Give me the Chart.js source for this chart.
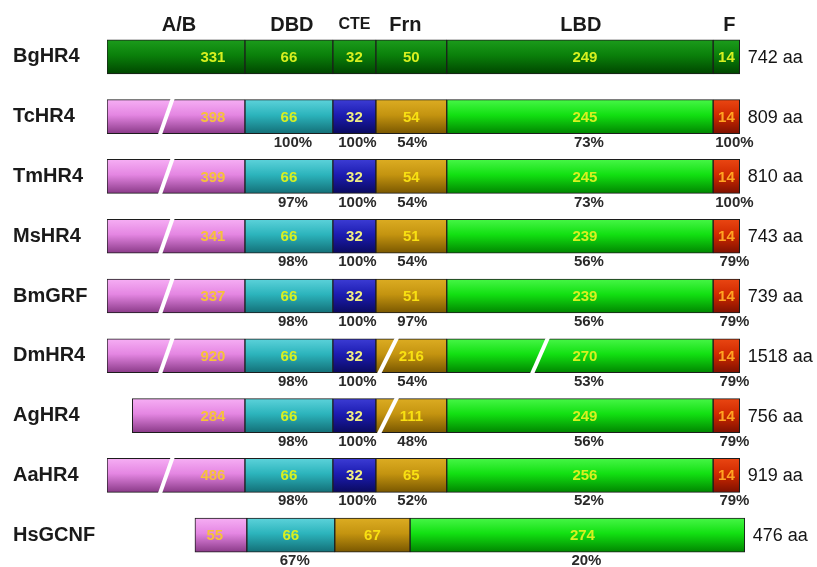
<!DOCTYPE html>
<html>
<head>
<meta charset="utf-8">
<script src="https://cdn.jsdelivr.net/npm/chart.js@4.4.0/dist/chart.umd.min.js"></script>
<style>
  html, body { margin: 0; padding: 0; background: #ffffff; }
  #wrap { width: 817px; height: 567px; }
</style>
</head>
<body>
<div id="wrap"><canvas id="c" width="817" height="567"></canvas></div>
<script>
// HR4 / GRF / GCNF orthologues and their domain organisation.
const receptors = ['BgHR4', 'TcHR4', 'TmHR4', 'MsHR4', 'BmGRF', 'DmHR4', 'AgHR4', 'AaHR4', 'HsGCNF'];
const domainNames = ['A/B', 'DBD', 'CTE', 'Frn', 'LBD', 'F'];

// Schematic extent of each domain box, in diagram units (a full-length receptor spans 0–100).
const abSeg  = [[0, 21.8], [0, 21.8], [0, 21.8], [0, 21.8], [0, 21.8], [0, 21.8], [4, 21.8], [0, 21.8], [13.9, 22.1]];
const dbdSeg = [[21.8, 35.7], [21.8, 35.7], [21.8, 35.7], [21.8, 35.7], [21.8, 35.7], [21.8, 35.7], [21.8, 35.7], [21.8, 35.7], [22.1, 36.0]];
const cteSeg = [[35.7, 42.5], [35.7, 42.5], [35.7, 42.5], [35.7, 42.5], [35.7, 42.5], [35.7, 42.5], [35.7, 42.5], [35.7, 42.5], null];
const frnSeg = [[42.5, 53.7], [42.5, 53.7], [42.5, 53.7], [42.5, 53.7], [42.5, 53.7], [42.5, 53.7], [42.5, 53.7], [42.5, 53.7], [36.0, 47.9]];
const lbdSeg = [[53.7, 95.8], [53.7, 95.8], [53.7, 95.8], [53.7, 95.8], [53.7, 95.8], [53.7, 95.8], [53.7, 95.8], [53.7, 95.8], [47.9, 100.8]];
const fSeg   = [[95.8, 100], [95.8, 100], [95.8, 100], [95.8, 100], [95.8, 100], [95.8, 100], [95.8, 100], [95.8, 100], null];

// Domain lengths in amino acids.
const abLen  = [331, 398, 399, 341, 337, 920, 284, 486, 55];
const dbdLen = [66, 66, 66, 66, 66, 66, 66, 66, 66];
const cteLen = [32, 32, 32, 32, 32, 32, 32, 32, null];
const frnLen = [50, 54, 54, 51, 51, 216, 111, 65, 67];
const lbdLen = [249, 245, 245, 239, 239, 270, 249, 256, 274];
const fLen   = [14, 14, 14, 14, 14, 14, 14, 14, null];
const totalLen = [742, 809, 810, 743, 739, 1518, 756, 919, 476];

// Identity to BgHR4 per domain (%).
const dbdId = [null, 100, 97, 98, 98, 98, 98, 98, 67];
const cteId = [null, 100, 100, 100, 100, 100, 100, 100, null];
const frnId = [null, 54, 54, 54, 97, 54, 48, 52, null];
const lbdId = [null, 73, 73, 56, 56, 53, 56, 52, 20];
const fId   = [null, 100, 100, 79, 79, 79, 79, 79, null];

// Domains drawn with a break (not to scale).
const abBreak  = [false, true, true, true, true, true, false, true, false];
const frnBreak = [false, false, false, false, false, true, true, false, false];
const lbdBreak = [false, false, false, false, false, true, false, false, false];

const segs = [abSeg, dbdSeg, cteSeg, frnSeg, lbdSeg, fSeg];
const lens = [abLen, dbdLen, cteLen, frnLen, lbdLen, fLen];
const idents = [null, dbdId, cteId, frnId, lbdId, fId];
const breaks = [abBreak, null, null, frnBreak, lbdBreak, null];

// ---- styling ----
const FONT = "'Liberation Sans', Arial, Helvetica, sans-serif";
const BAR_H = 34;
const gradStops = [
  ['#f6aef4', '#e486e2', '#8a3a88'],   // A/B
  ['#5cd2da', '#2cb4bc', '#136f77'],   // DBD
  ['#3c3cd4', '#1c1cb2', '#0a0a5e'],   // CTE
  ['#dcac22', '#c49410', '#795700'],   // Frn
  ['#46f646', '#12e012', '#008600'],   // LBD
  ['#ea4612', '#d02a00', '#7e1000']    // F
];
const refStops = ['#1c9c1c', '#0a800a', '#004600'];
const numColor = ['#f6c23a', '#d8f020', '#f0ee84', '#f8e012', '#d8f020', '#ffa422'];
const refNumColor = '#d8f020';
const pctOffset = [0, 4, 3, 1, 9, 8];
const headOffset = [3, 3, 0, -6, 1, 3];
const breakPos = [0.43, 0, 0, 0.17, 0.35, 0];   // break centre as a fraction of the box
const breakSkew = [6, 0, 0, 8.5, 7.5, 0];       // half horizontal lean of the break, px

function gradientFor(ctx, d) {
  const chart = ctx.chart;
  const ys = chart.scales && chart.scales.y;
  const stops = (ctx.dataIndex === 0) ? refStops : gradStops[d];
  if (!ys || ctx.dataIndex === undefined) return stops[1];
  const yc = ys.getPixelForValue(ctx.dataIndex);
  if (!isFinite(yc)) return stops[1];
  const g = chart.ctx.createLinearGradient(0, yc - BAR_H / 2, 0, yc + BAR_H / 2);
  g.addColorStop(0, stops[0]);
  g.addColorStop(0.45, stops[1]);
  g.addColorStop(1, stops[2]);
  return g;
}

const datasets = domainNames.map((name, d) => ({
  label: name,
  data: segs[d],
  grouped: false,
  barThickness: BAR_H,
  borderWidth: 1,
  borderColor: '#1c1c1c',
  borderSkipped: false,
  backgroundColor: (ctx) => gradientFor(ctx, d)
}));

const annotate = {
  id: 'domainAnnotations',
  afterDatasetsDraw(chart) {
    const c = chart.ctx;
    const xs = chart.scales.x, ys = chart.scales.y;
    c.save();

    // breaks in long domains
    c.strokeStyle = '#ffffff';
    c.lineWidth = 4;
    c.lineCap = 'butt';
    receptors.forEach((r, i) => {
      const yc = ys.getPixelForValue(i);
      breaks.forEach((arr, d) => {
        if (!arr || !arr[i]) return;
        const s = segs[d][i];
        const x0 = xs.getPixelForValue(s[0]), x1 = xs.getPixelForValue(s[1]);
        const xm = x0 + (x1 - x0) * breakPos[d];
        const k = breakSkew[d];
        const h = BAR_H / 2 + 1.5;
        c.beginPath();
        c.moveTo(xm - k * (h / (BAR_H / 2)), yc + h);
        c.lineTo(xm + k * (h / (BAR_H / 2)), yc - h);
        c.stroke();
      });
    });

    // domain lengths inside the boxes
    c.textBaseline = 'middle';
    c.textAlign = 'center';
    c.font = 'bold 15px ' + FONT;
    receptors.forEach((r, i) => {
      const yc = ys.getPixelForValue(i);
      segs.forEach((arr, d) => {
        const s = arr[i];
        if (!s || lens[d][i] == null) return;
        const x0 = xs.getPixelForValue(s[0]), x1 = xs.getPixelForValue(s[1]);
        let x = (x0 + x1) / 2;
        if (d === 0) x = x1 - 32;
        if (d === 4) x += 5;
        c.fillStyle = i === 0 ? refNumColor : numColor[d];
        c.fillText(String(lens[d][i]), x, yc + 1);
      });
    });

    // identity percentages under the boxes
    c.fillStyle = '#2a2a2a';
    c.font = 'bold 15px ' + FONT;
    receptors.forEach((r, i) => {
      const yc = ys.getPixelForValue(i);
      idents.forEach((arr, d) => {
        if (!arr || arr[i] == null) return;
        const s = segs[d][i];
        const x0 = xs.getPixelForValue(s[0]), x1 = xs.getPixelForValue(s[1]);
        c.fillText(arr[i] + '%', (x0 + x1) / 2 + pctOffset[d], yc + 26);
      });
    });

    // total length at the right end
    c.textAlign = 'left';
    c.fillStyle = '#141414';
    c.font = '18px ' + FONT;
    receptors.forEach((r, i) => {
      const yc = ys.getPixelForValue(i);
      let end = -Infinity;
      segs.forEach(arr => { if (arr[i]) end = Math.max(end, arr[i][1]); });
      c.fillText(totalLen[i] + ' aa', xs.getPixelForValue(end) + 8, yc + 1);
    });

    // domain headers
    c.textAlign = 'center';
    c.fillStyle = '#1a1a1a';
    domainNames.forEach((name, d) => {
      const s = segs[d][0];
      const x = (xs.getPixelForValue(s[0]) + xs.getPixelForValue(s[1])) / 2 + headOffset[d];
      c.font = (name === 'CTE' ? 'bold 16px ' : 'bold 20px ') + FONT;
      c.fillText(name, x, 25);
    });

    c.restore();
  }
};

new Chart(document.getElementById('c'), {
  type: 'bar',
  data: { labels: receptors, datasets },
  options: {
    indexAxis: 'y',
    responsive: false,
    animation: false,
    layout: { padding: { left: 13, right: 71, top: 27, bottom: 2 } },
    plugins: { legend: { display: false }, tooltip: { enabled: false } },
    scales: {
      x: { display: false, min: 0, max: 101 },
      y: {
        grid: { display: false },
        border: { display: false },
        afterFit: (s) => { s.width = 94; s.paddingTop = 0; s.paddingBottom = 0; },
        ticks: {
          crossAlign: 'far',
          color: '#1a1a1a',
          font: { family: FONT, size: 20, weight: 'bold' }
        }
      }
    }
  },
  plugins: [annotate]
});
</script>
</body>
</html>
